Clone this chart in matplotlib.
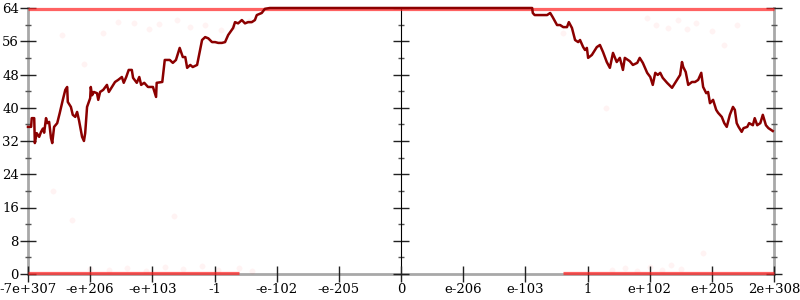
import matplotlib
matplotlib.use("Agg")
import matplotlib.pyplot as plt
from matplotlib.ticker import MultipleLocator

x_labels = ["-7e+307", "-e+206", "-e+103", "-1", "-e-102", "-e-205", "0",
            "e-206", "e-103", "1", "e+102", "e+205", "2e+308"]
y_ticks = [0, 8, 16, 24, 32, 40, 48, 56, 64]

line_x = [0.00, 0.05, 0.06, 0.10, 0.11, 0.14, 0.18, 0.21, 0.24, 0.26, 0.29, 0.31, 0.34, 0.37,
          0.39, 0.42, 0.47, 0.51, 0.56, 0.60, 0.63, 0.64, 0.69, 0.72, 0.76, 0.79, 0.82, 0.87,
          0.90, 0.92, 0.95, 1.00, 1.01, 1.03, 1.06, 1.11, 1.13, 1.16, 1.21, 1.27, 1.30, 1.35,
          1.40, 1.45, 1.51, 1.54, 1.58, 1.62, 1.67, 1.69, 1.75, 1.79, 1.82, 1.87, 1.93, 2.01,
          2.06, 2.07, 2.16, 2.20, 2.28, 2.33, 2.38, 2.44, 2.49, 2.53, 2.56, 2.61, 2.65, 2.72,
          2.80, 2.85, 2.90, 2.96, 3.01, 3.06, 3.12, 3.17, 3.22, 3.30, 3.33, 3.38, 3.44, 3.49,
          3.54, 3.60, 3.65, 3.68, 3.76, 3.81, 3.89,
          8.11, 8.12, 8.15, 8.27, 8.35, 8.40, 8.44, 8.51, 8.56, 8.61, 8.67, 8.70, 8.75, 8.80,
          8.85, 8.88, 8.93, 8.96, 8.99, 9.01, 9.07, 9.15, 9.20, 9.25, 9.31, 9.36, 9.41, 9.47,
          9.52, 9.57, 9.60, 9.68, 9.73, 9.80, 9.84, 9.89, 9.96, 10.01, 10.05, 10.09, 10.13,
          10.17, 10.21, 10.28, 10.36, 10.41, 10.49, 10.52, 10.54, 10.58, 10.62, 10.68, 10.73,
          10.78, 10.83, 10.86, 10.91, 10.94, 10.97, 11.02, 11.07, 11.10, 11.16, 11.20, 11.24,
          11.29, 11.34, 11.37, 11.40, 11.43, 11.48, 11.51, 11.57, 11.60, 11.66, 11.69, 11.73,
          11.78, 11.82, 11.87, 11.91, 11.98]
line_y = [35.4, 35.4, 37.5, 37.5, 31.5, 33.9, 33.0, 34.2, 35.0, 34.0, 37.5, 36.3, 36.6, 32.7,
          31.5, 35.4, 36.3, 38.7, 41.9, 44.3, 45.0, 41.4, 40.2, 38.3, 37.8, 39.0, 37.0, 33.0,
          32.0, 33.9, 40.2, 42.3, 45.0, 43.0, 43.8, 43.5, 41.9, 43.8, 44.3, 45.5, 43.8, 45.0,
          46.2, 46.7, 47.4, 46.0, 47.4, 49.1, 49.1, 47.2, 46.0, 47.4, 45.5, 46.0, 45.0, 45.0,
          42.6, 46.0, 46.2, 51.5, 51.5, 50.8, 51.5, 54.4, 52.2, 52.2, 49.6, 50.3, 49.8, 50.3,
          56.3, 57.0, 56.7, 55.8, 55.8, 55.6, 55.6, 55.8, 57.5, 59.2, 60.6, 60.3, 61.1, 60.3,
          60.6, 60.6, 61.1, 62.3, 62.8, 63.8, 64.0,
          64.0, 62.8, 62.3, 62.3, 62.3, 62.8, 61.8, 59.9, 59.9, 59.4, 59.4, 60.6, 59.2, 56.3,
          55.8, 56.3, 54.6, 53.9, 54.4, 52.0, 52.7, 54.6, 55.1, 53.4, 51.0, 49.6, 53.2, 51.0,
          52.0, 49.1, 52.0, 51.2, 50.3, 50.8, 52.0, 50.8, 48.4, 47.4, 45.5, 48.4, 47.9,
          48.4, 47.2, 46.0, 44.8, 46.0, 47.9, 51.0, 49.8, 48.6, 45.5, 46.2, 46.2,
          46.7, 48.4, 45.0, 43.5, 43.8, 41.1, 41.9, 39.5, 38.8, 37.8, 36.3, 35.4,
          38.3, 40.2, 39.5, 36.3, 35.4, 34.2, 35.1, 35.4, 36.3, 35.8, 37.5, 35.8,
          36.3, 38.3, 35.8, 35.1, 34.4]

# faint scattered samples (pale red dots)
dots_x = [0.55, 1.70, 1.95, 2.10, 2.40, 2.60, 2.85, 3.10, 3.30, 3.55, 1.20, 1.45, 0.90,
          9.95, 10.10, 10.30, 10.45, 10.60, 10.75, 11.00, 11.20, 11.40, 9.30, 8.60,
          1.00, 1.30, 1.60, 1.90, 2.20, 2.50, 2.80, 3.05, 3.40, 3.60,
          9.40, 9.60, 9.80, 10.00, 10.20, 10.35, 10.50, 0.70, 2.35, 10.85, 0.40]
dots_y = [57.5, 60.5, 59.0, 60.2, 61.0, 59.5, 60.0, 58.8, 59.5, 60.8, 58.0, 60.7, 50.5,
          61.5, 60.0, 59.2, 61.2, 59.0, 60.5, 58.5, 55.0, 60.0, 40.0, 58.0,
          1.2, 1.0, 1.5, 0.8, 1.8, 1.2, 2.0, 1.0, 1.5, 0.8,
          1.0, 1.5, 0.7, 1.8, 1.0, 2.2, 1.2, 13.0, 14.0, 5.0, 20.0]

band_top_x = [0.0, 12.0]
band_top_y = [63.7, 63.7]
band_bot_left_x = [0.0, 3.4]
band_bot_right_x = [8.6, 12.0]
band_bot_y = [0.3, 0.3]

plt.rcParams['font.family'] = ['DejaVu Serif']
fig = plt.figure(figsize=(8, 3), dpi=100)
ax = fig.add_axes([28 / 800, 26 / 300, 746 / 800, 266 / 300])

ax.set_xlim(0, 12)
ax.set_ylim(0, 64)

red = '#ff2020'
ax.scatter(dots_x, dots_y, s=18, color=red, alpha=0.05, linewidths=0, zorder=1)
ax.plot(band_top_x, band_top_y, color=red, alpha=0.7, lw=2.3, zorder=3,
        solid_capstyle='butt', clip_on=False)
ax.plot(band_bot_left_x, band_bot_y, color=red, alpha=0.7, lw=2.3, zorder=3,
        solid_capstyle='butt', clip_on=False)
ax.plot(band_bot_right_x, band_bot_y, color=red, alpha=0.7, lw=2.3, zorder=3,
        solid_capstyle='butt', clip_on=False)
ax.plot(line_x, line_y, color='#8b0000', lw=1.8, zorder=4, clip_on=False)

gray = '#a8a8a8'
ax.spines['top'].set_visible(False)
for s in ['left', 'right', 'bottom']:
    ax.spines[s].set_color(gray)
    ax.spines[s].set_linewidth(2)
    ax.spines[s].set_zorder(0)

ax.set_xticks(range(len(x_labels)))
ax.set_xticklabels(x_labels, fontsize=9.5)
ax.set_yticks(y_ticks)
ax.set_yticklabels([str(v) for v in y_ticks], fontsize=9.5)
ax.yaxis.set_minor_locator(MultipleLocator(4))
ax.tick_params(axis='both', which='major', direction='inout', length=11, width=1, color='#222222', pad=1)
ax.tick_params(axis='y', which='minor', direction='inout', length=5, width=1, color='#555555')
ax.tick_params(axis='y', which='both', right=True)
ax.tick_params(axis='x', top=False)

sec = ax.secondary_yaxis(0.5)
sec.set_yticks(y_ticks)
sec.set_yticklabels([''] * len(y_ticks))
sec.yaxis.set_minor_locator(MultipleLocator(4))
sec.tick_params(axis='y', which='major', direction='inout', length=11, width=1, color='#222222')
sec.tick_params(axis='y', which='minor', direction='inout', length=5, width=1, color='#555555')
sec.spines['left'].set_color(gray)
sec.spines['left'].set_linewidth(2)

fig.savefig('out.png', dpi=100)
